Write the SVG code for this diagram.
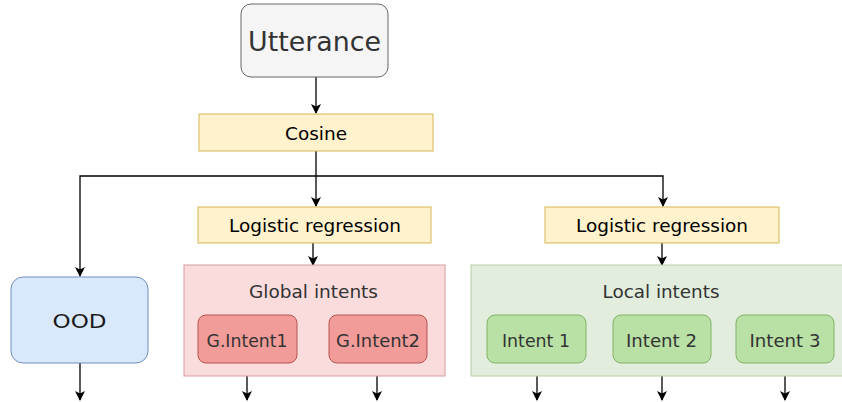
<svg xmlns="http://www.w3.org/2000/svg" width="842" height="402" viewBox="0 0 842 402">
<style>
text{font-family:"DejaVu Sans","Open Sans",sans-serif;text-anchor:middle;dominant-baseline:central}
.yel{fill:#fff2cc;stroke:#d6b656}
.red{fill:#f19c99;stroke:#b85450}
.grn{fill:#b9e0a5;stroke:#82b366}
.lbl{font-size:18px;fill:#000}
.sub{font-size:18px;fill:#333}
.edge{fill:none;stroke:#000;stroke-width:1.3}
</style>
<defs>
<marker id="ah" viewBox="0 0 10 10" refX="9" refY="5" markerWidth="10" markerHeight="10" markerUnits="userSpaceOnUse" orient="auto">
<path d="M0,0 L10,5 L0,10 L2.5,5 Z" fill="#000"/>
</marker>
</defs>
<g id="connectors">
<path class="edge" d="M316,77 V113" marker-end="url(#ah)"/>
<path class="edge" d="M316,151 V206" marker-end="url(#ah)"/>
<path class="edge" d="M316,176 H80 V276" marker-end="url(#ah)"/>
<path class="edge" d="M316,176 H663 V206" marker-end="url(#ah)"/>
<path class="edge" d="M313,243 V265" marker-end="url(#ah)"/>
<path class="edge" d="M662,243 V265" marker-end="url(#ah)"/>
<path class="edge" d="M80,363 V400" marker-end="url(#ah)"/>
<path class="edge" d="M247,363 V400" marker-end="url(#ah)"/>
<path class="edge" d="M377,363 V400" marker-end="url(#ah)"/>
<path class="edge" d="M537,363 V400" marker-end="url(#ah)"/>
<path class="edge" d="M662,363 V400" marker-end="url(#ah)"/>
<path class="edge" d="M785,363 V400" marker-end="url(#ah)"/>
</g>
<g id="utterance">
<rect x="241" y="4" width="147" height="73" rx="10" fill="#f5f5f5" stroke="#666"/>
<text x="314.5" y="41" font-size="27" fill="#333" textLength="133" lengthAdjust="spacingAndGlyphs">Utterance</text>
</g>
<g id="cosine">
<rect class="yel" x="199" y="114" width="234" height="37"/>
<text class="lbl" x="316" y="133" textLength="62" lengthAdjust="spacingAndGlyphs">Cosine</text>
</g>
<g id="lr1">
<rect class="yel" x="198" y="207" width="233" height="36"/>
<text class="lbl" x="315" y="225" textLength="172" lengthAdjust="spacingAndGlyphs">Logistic regression</text>
</g>
<g id="lr2">
<rect class="yel" x="545" y="207" width="234" height="36"/>
<text class="lbl" x="662" y="225" textLength="172" lengthAdjust="spacingAndGlyphs">Logistic regression</text>
</g>
<g id="ood">
<rect x="11" y="277" width="137" height="86" rx="12" fill="#dae8fc" stroke="#6c8ebf"/>
<text x="79.5" y="321" font-size="20" fill="#1a1a1a" textLength="54" lengthAdjust="spacingAndGlyphs">OOD</text>
</g>
<g id="global">
<rect x="184" y="265" width="261" height="111" fill="#fadcdc" stroke="#d49e9c"/>
<text class="sub" x="313.5" y="291" textLength="129" lengthAdjust="spacingAndGlyphs">Global intents</text>
</g>
<g id="gintent1">
<rect class="red" x="198" y="315" width="99" height="48" rx="8"/>
<text class="sub" x="247" y="340" textLength="81" lengthAdjust="spacingAndGlyphs">G.Intent1</text>
</g>
<g id="gintent2">
<rect class="red" x="329" y="315" width="98" height="48" rx="8"/>
<text class="sub" x="378" y="340" textLength="84" lengthAdjust="spacingAndGlyphs">G.Intent2</text>
</g>
<g id="local">
<rect x="471" y="265" width="373" height="111" fill="#e2edde" stroke="#b3cfa3"/>
<text class="sub" x="661" y="291" textLength="117" lengthAdjust="spacingAndGlyphs">Local intents</text>
</g>
<g id="intent1">
<rect class="grn" x="487" y="315" width="99" height="48" rx="8"/>
<text class="sub" x="536" y="340" textLength="68" lengthAdjust="spacingAndGlyphs">Intent 1</text>
</g>
<g id="intent2">
<rect class="grn" x="613" y="315" width="98" height="48" rx="8"/>
<text class="sub" x="661.5" y="340" textLength="71" lengthAdjust="spacingAndGlyphs">Intent 2</text>
</g>
<g id="intent3">
<rect class="grn" x="736" y="315" width="98" height="48" rx="8"/>
<text class="sub" x="785" y="340" textLength="71" lengthAdjust="spacingAndGlyphs">Intent 3</text>
</g>
</svg>
